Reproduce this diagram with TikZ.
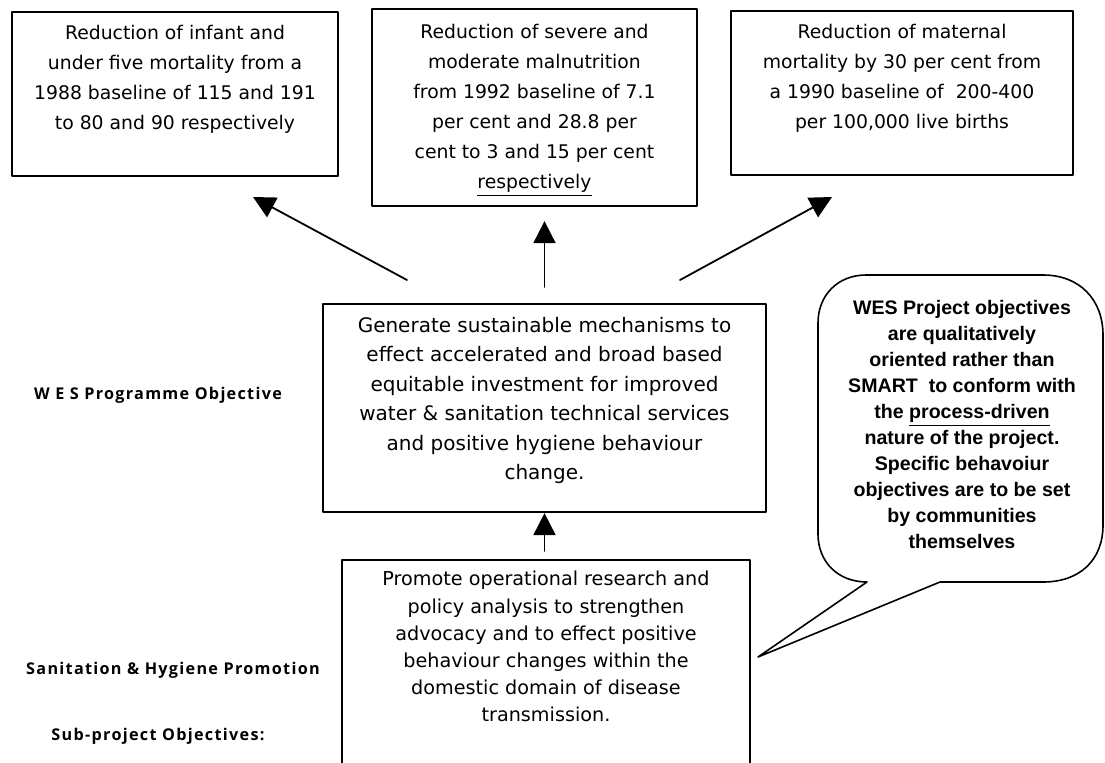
\documentclass[tikz,border=0pt]{standalone}
\usepackage{fontspec}
\setmainfont{DejaVu Sans}
\newfontfamily\notefont{Liberation Sans}
\newfontfamily\labelfont[LetterSpace=8]{Open Sans}
\usetikzlibrary{arrows.meta,positioning}
\tikzset{
  goalbox/.style={draw, line width=1.1pt, inner sep=0pt},
  goaltext/.style={align=center, inner sep=0pt, font=\fontsize{9.4}{15}\selectfont},
  maintext/.style={align=center, inner sep=0pt, font=\fontsize{10}{14.7}\selectfont},
  subtext/.style={align=center, inner sep=0pt, font=\fontsize{9.6}{13.6}\selectfont},
  notetext/.style={align=center, inner sep=0pt, font=\notefont\bfseries\fontsize{9.8}{13}\selectfont},
  sidelabel/.style={inner sep=0pt, font=\labelfont\bfseries\fontsize{8.1}{9}\selectfont},
  uparrow/.style={line width=0.9pt, -{Triangle[length=11pt,width=11pt]}}
}
\begin{document}
\begin{tikzpicture}[x=0.5pt, y=-0.5pt, line join=round, line cap=round]
  \useasboundingbox (0,0) rectangle (1105,762);
  % impact goals
  \node[goalbox, minimum width=163pt, minimum height=82pt] (infant) at (175,94) {};
  \node[goalbox, minimum width=162.5pt, minimum height=98.5pt] (nutrition) at (534.5,107.5) {};
  \node[goalbox, minimum width=171pt, minimum height=82pt] (maternal) at (902,93) {};
  \node[goaltext, below=7pt of infant.north] (infant-t) {Reduction of infant and\\under five mortality from a\\1988 baseline of 115 and 191\\to 80 and 90 respectively};
  \node[goaltext, below=8pt of nutrition.north] (nutrition-t) {Reduction of severe and\\moderate malnutrition\\from 1992 baseline of 7.1\\per cent and 28.8 per\\cent to 3 and 15 per cent\\\underline{respectively}};
  \node[goaltext, below=7pt of maternal.north] (maternal-t) {Reduction of maternal\\mortality by 30 per cent from\\a 1990 baseline of\ \ 200-400\\per 100,000 live births};
  % programme and sub-project objectives
  \node[goalbox, minimum width=221.5pt, minimum height=104pt] (programme) at (544.5,408) {};
  \node[maintext, below=7pt of programme.north] (programme-t) {Generate sustainable mechanisms to\\effect accelerated and broad based\\equitable investment for improved\\water \& sanitation technical services\\and positive hygiene behaviour\\change.};
  \node[goalbox, minimum width=204pt, minimum height=105pt] (subproject) at (546,665) {};
  \node[subtext, below=6pt of subproject.north] (subproject-t) {Promote operational research and\\policy analysis to strengthen\\advocacy and to effect positive\\behaviour changes within the\\domestic domain of disease\\transmission.};
  % side labels
  \node[sidelabel] (wes) at (158,395) {W E S Programme Objective};
  \node[sidelabel] (san) at (173,670) {Sanitation \& Hygiene Promotion};
  \node[sidelabel] (sub) at (158,736) {Sub-project Objectives:};
  % arrows
  \coordinate (left-from) at (407,280);
  \coordinate (left-to) at (253,197);
  \coordinate (right-from) at (680,280);
  \coordinate (right-to) at (832,197);
  \draw[uparrow] (left-from) -- (left-to);
  \draw[uparrow] (right-from) -- (right-to);
  \draw[uparrow] ([yshift=8pt]programme.north) -- ([yshift=-7pt]programme.north |- nutrition.south);
  \draw[uparrow] ([yshift=4pt]subproject.north -| programme.south) -- (programme.south);
  % callout
  \node[notetext, anchor=north] (note) at (962,300) {WES Project objectives\\are qualitatively\\oriented rather than\\SMART\ \ to conform with\\the \underline{process-driven}\\nature of the project.\\Specific behavoiur\\objectives are to be set\\by communities\\themselves};
  \coordinate (tip) at (758,657);
  \draw[line width=0.8pt] (867,582) -- (tip) -- (940,582) -- (1043,582)
    .. controls (1080,582) and (1103,560) .. (1103,525) -- (1103,335)
    .. controls (1103,300) and (1080,275) .. (1043,275) -- (866,275)
    .. controls (838,275) and (818,295) .. (818,323) -- (818,534)
    .. controls (818,562) and (838,582) .. (867,582);
\end{tikzpicture}
\end{document}
